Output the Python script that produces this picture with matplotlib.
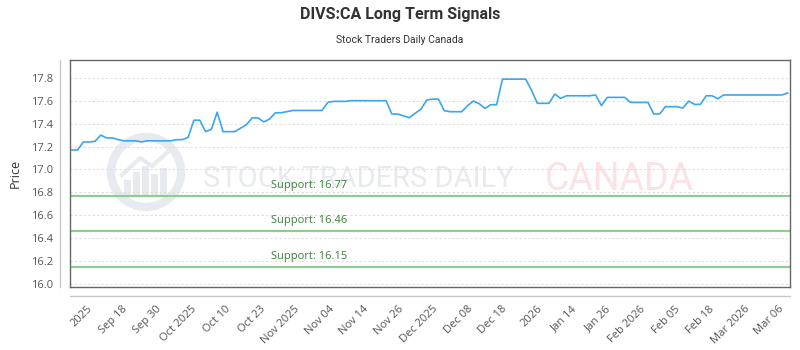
import matplotlib
matplotlib.use("Agg")
import matplotlib.pyplot as plt
import matplotlib.transforms as mtransforms
from matplotlib.lines import Line2D
from matplotlib.patches import Circle, Rectangle
import numpy as np

# ---- data ----
prices = [
    17.17, 17.17, 17.24, 17.24, 17.245, 17.30, 17.275, 17.275, 17.26, 17.25,
    17.25, 17.25, 17.24, 17.25, 17.25, 17.25, 17.25, 17.25, 17.26, 17.26,
    17.28, 17.43, 17.43, 17.33, 17.35, 17.50, 17.33, 17.33, 17.33, 17.36,
    17.39, 17.45, 17.45, 17.415, 17.44, 17.495, 17.495, 17.505, 17.515, 17.515,
    17.515, 17.515, 17.515, 17.515, 17.585, 17.594, 17.594, 17.594, 17.60, 17.60,
    17.60, 17.60, 17.60, 17.60, 17.60, 17.484, 17.484, 17.467, 17.452, 17.49,
    17.527, 17.606, 17.614, 17.614, 17.513, 17.504, 17.504, 17.504, 17.556, 17.597,
    17.574, 17.533, 17.565, 17.565, 17.788, 17.788, 17.788, 17.788, 17.788, 17.69,
    17.577, 17.577, 17.577, 17.658, 17.62, 17.643, 17.643, 17.643, 17.643, 17.643,
    17.65, 17.557, 17.629, 17.629, 17.629, 17.629, 17.585, 17.585, 17.585, 17.585,
    17.484, 17.484, 17.548, 17.548, 17.548, 17.536, 17.597, 17.568, 17.568, 17.643,
    17.643, 17.617, 17.65, 17.65, 17.65, 17.65, 17.65, 17.65, 17.65, 17.65,
    17.65, 17.65, 17.65, 17.667,
]
tick_labels = ["2025", "Sep 18", "Sep 30", "Oct 2025", "Oct 10", "Oct 23",
               "Nov 2025", "Nov 04", "Nov 14", "Nov 26", "Dec 2025", "Dec 08",
               "Dec 18", "2026", "Jan 14", "Jan 26", "Feb 2026", "Feb 05",
               "Feb 18", "Mar 2026", "Mar 06"]
support_levels = [16.77, 16.46, 16.15]
y_ticks = [16.0, 16.2, 16.4, 16.6, 16.8, 17.0, 17.2, 17.4, 17.6, 17.8]

title = "DIVS:CA Long Term Signals"
subtitle = "Stock Traders Daily Canada"

# ---- figure ----
W, H = 800, 350
fig = plt.figure(figsize=(W / 100, H / 100), dpi=100)
fig.patch.set_facecolor("white")

L, R, T, B = 70, 790, 60, 287

# watermark layer (behind the plot)
ax_wm = fig.add_axes([0, 0, 1, 1], zorder=0)
ax_wm.set_xlim(0, W)
ax_wm.set_ylim(H, 0)
ax_wm.axis("off")
wm_col = "#e7ebf0"
ax_wm.add_patch(Circle((146, 172), 35, facecolor="none", edgecolor=wm_col, lw=6))
for bx, bh in [(124, 16), (133, 24), (142, 30), (151, 22), (160, 28)]:
    ax_wm.add_patch(Rectangle((bx, 196 - bh), 7, bh, facecolor=wm_col, edgecolor="none"))
ax_wm.plot([122, 140, 152, 170], [175, 158, 166, 150], color=wm_col, lw=3)
ax_wm.text(203, 179, "STOCK TRADERS DAILY", fontsize=21, color=wm_col,
           family=["Roboto", "DejaVu Sans"], va="center", ha="left")
ax_wm.text(545, 179, "CANADA", fontsize=27, color="#fbe2e5",
           family=["Roboto", "DejaVu Sans"], va="center", ha="left")

ax = fig.add_axes([L / W, 1 - B / H, (R - L) / W, (B - T) / H], zorder=1)
ax.patch.set_alpha(0)

x = np.arange(len(prices))
ax.set_xlim(-0.29, len(prices) - 1 + 0.4)
ax.set_ylim(15.975, 17.955)

# grid
for yv in y_ticks:
    ax.axhline(yv, color="#dedede", lw=0.8, ls=(0, (2, 2)), zorder=0)

# support lines
blend = mtransforms.blended_transform_factory(ax.transAxes, ax.transData)
for lvl in support_levels:
    ax.axhline(lvl, color="#90cc90", lw=1.6, zorder=2)
    ax.text((271 - L) / (R - L), lvl + 0.045, f"Support: {lvl:.2f}", transform=blend,
            fontsize=8, color="#3d7f3d", ha="left", va="bottom", zorder=3,
            family=["Open Sans", "DejaVu Sans"])

# price line
ax.plot(x, prices, color="#3ba5f2", lw=1.2, zorder=4, solid_joinstyle="round")

# frame
for s in ax.spines.values():
    s.set_color("#666666")
    s.set_linewidth(1.0)

# outer axis lines
ax.add_line(Line2D([-10 / (R - L)] * 2, [0, 1], transform=ax.transAxes,
                   color="#c8c8c8", lw=1.0, clip_on=False))
ax.add_line(Line2D([0, 1], [-9 / (B - T)] * 2, transform=ax.transAxes,
                   color="#c8c8c8", lw=1.0, clip_on=False))

# ticks
ax.set_yticks(y_ticks)
ax.set_yticklabels([f"{v:.1f}" for v in y_ticks], family=["Open Sans", "DejaVu Sans"])
ax.tick_params(axis="y", length=0, pad=12, labelsize=8, labelcolor="#555555")
tick_pos = np.linspace(2.6, 121.4, len(tick_labels))
ax.set_xticks(tick_pos)
ax.set_xticklabels(tick_labels, rotation=45, ha="right", rotation_mode="anchor",
                   family=["Open Sans", "DejaVu Sans"])
ax.tick_params(axis="x", length=0, pad=12, labelsize=8, labelcolor="#555555")

ax.set_ylabel("Price", fontsize=9, color="#333333",
              family=["Open Sans", "DejaVu Sans"])
ax.yaxis.set_label_coords(-(70 - 22) / (R - L), 0.5)

fig.text(0.5, 1 - 15 / H, title, ha="center", va="center", fontsize=11.5,
         fontweight="bold", color="#333333", family=["Roboto", "DejaVu Sans"])
fig.text(0.5, 1 - 40 / H, subtitle, ha="center", va="center", fontsize=7.5,
         color="#333333", family=["Roboto", "DejaVu Sans"])

fig.savefig("out.png", dpi=100)
